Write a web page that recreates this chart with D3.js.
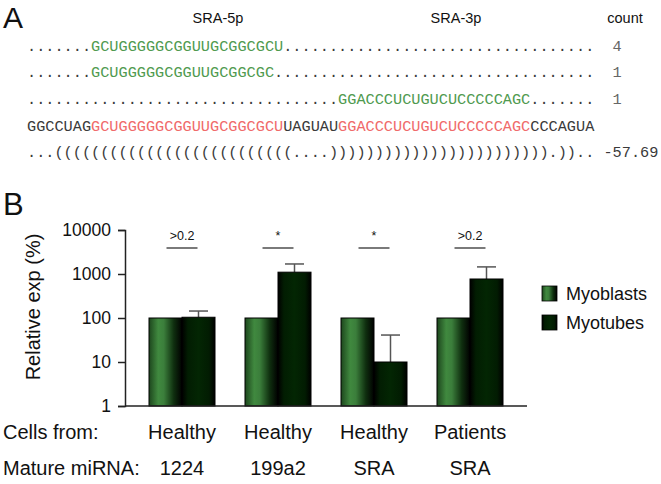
<!DOCTYPE html>
<meta charset="utf-8">
<style>
body { margin: 0; background: #fff; }
text { font-family: "Liberation Sans", Arial, sans-serif; fill: #111; }
.seq { font-family: "Liberation Mono", "Courier New", monospace; font-size: 15.25px; fill: #333; white-space: pre; }
</style>
<svg width="661" height="484"></svg>
<script src="https://d3js.org/d3.v7.min.js"></script>
<script>

// ---- panel A data ----
var precursor = "GGCCUAGGCUGGGGGCGGUUGCGGCGCUUAGUAUGGACCCUCUGUCUCCCCCAGCCCCAGUA"
var structure = "..." + "(".repeat(26) + "...." + ")".repeat(24) + "." + "))" + ".."
var energy = "-57.69"
var arms = [{name: "SRA-5p", start: 7, len: 21}, {name: "SRA-3p", start: 34, len: 21}]
var readStarts = [7, 7, 34]
var readSeqs = ["GCUGGGGGCGGUUGCGGCGCU", "GCUGGGGGCGGUUGCGGCGC", "GGACCCUCUGUCUCCCCCAGC"]
var readCounts = [4, 1, 1]

// ---- panel B data ----
var cellsFrom = ["Healthy", "Healthy", "Healthy", "Patients"]
var matureMirna = ["1224", "199a2", "SRA", "SRA"]
var myoblasts = [100, 100, 100, 100]
var myotubes = [104, 1100, 10, 770]
var myotubesErr = [40, 590, 31, 680]
var pLabels = [">0.2", "*", "*", ">0.2"]
var yTicks = [1, 10, 100, 1000, 10000]
var seriesNames = ["Myoblasts", "Myotubes"]

var svg = d3.select("svg")

var defs = svg.append("defs")
function grad(id, stops) {
  var g = defs.append("linearGradient").attr("id", id).attr("x1", "0%").attr("x2", "100%").attr("y1", "0%").attr("y2", "0%")
  stops.forEach(function(s){ g.append("stop").attr("offset", s[0]).attr("stop-color", s[1]) })
}
grad("gBlast", [["0%", "#1d461d"], ["28%", "#40893f"], ["45%", "#3b7e3b"], ["75%", "#0f2f0f"], ["100%", "#000"]])
grad("gTube", [["0%", "#000"], ["18%", "#021d02"], ["50%", "#032603"], ["82%", "#021c02"], ["100%", "#000"]])
var fills = ["url(#gBlast)", "url(#gTube)"]

// ================= Panel A =================
svg.append("text").attr("x", 3).attr("y", 28).style("font-size", "30px").text("A")

var cw = 9.15, x0 = 27
var colX = function(i){ return x0 + i * cw }

svg.selectAll(".armlab").data(arms).enter().append("text")
  .attr("class", "armlab")
  .attr("x", function(d, i){ return i == 0 ? 218 : 456 })
  .attr("y", 23)
  .attr("text-anchor", "middle")
  .style("font-size", "14.5px")
  .text(function(d){ return d.name })

svg.append("text").attr("x", 625).attr("y", 23).attr("text-anchor", "middle").style("font-size", "14.5px").text("count")

var rowY = [51, 77, 104, 131, 157]

function segText(y, start, str, color) {
  svg.append("text").attr("class", "seq")
    .attr("x", colX(start)).attr("y", y)
    .attr("textLength", str.length * cw).attr("lengthAdjust", "spacingAndGlyphs")
    .style("fill", color).text(str)
}

readSeqs.forEach(function(s, i){
  var st = readStarts[i]
  var end = st + s.length
  segText(rowY[i], 0, ".".repeat(st), "#3a3a3a")
  segText(rowY[i], st, s, "#4f9a4f")
  segText(rowY[i], end, ".".repeat(precursor.length - end), "#3a3a3a")
  svg.append("text").attr("class", "seq").attr("x", colX(64)).attr("y", rowY[i]).style("fill", "#666").text(readCounts[i])
})

// precursor with arms highlighted
var pos = 0
arms.forEach(function(a){
  if (a.start > pos) segText(rowY[3], pos, precursor.slice(pos, a.start), "#3a3a3a")
  segText(rowY[3], a.start, precursor.slice(a.start, a.start + a.len), "#f06a6a")
  pos = a.start + a.len
})
segText(rowY[3], pos, precursor.slice(pos), "#3a3a3a")

segText(rowY[4], 0, structure, "#3a3a3a")
svg.append("text").attr("class", "seq").attr("x", colX(structure.length + 1)).attr("y", rowY[4]).style("fill", "#3a3a3a").text(energy)

// ================= Panel B =================
svg.append("text").attr("x", 3).attr("y", 215).style("font-size", "31px").text("B")

var y = d3.scaleLog().domain([1, 10000]).range([406, 230])
var x = d3.scaleBand().domain(d3.range(cellsFrom.length)).range([134, 518]).paddingInner(0.3125).paddingOuter(0.15625)
var xs = d3.scaleBand().domain([0, 1]).range([0, x.bandwidth()])

var yAxis = svg.append("g").attr("transform", "translate(125,0)")
  .call(d3.axisLeft(y).tickValues(yTicks).tickFormat(d3.format("d")).tickSizeOuter(0).tickSize(7).tickPadding(7))
yAxis.select(".domain").attr("stroke", "#222").attr("stroke-width", 1.5)
yAxis.selectAll(".tick line").attr("stroke", "#222").attr("stroke-width", 1.5)
yAxis.selectAll(".tick text").style("font-size", "17.5px").style("font-family", "Liberation Sans, Arial, sans-serif").attr("fill", "#111")

svg.append("text")
  .attr("transform", "translate(40,307) rotate(-90)")
  .attr("text-anchor", "middle")
  .style("font-size", "20px")
  .text("Relative exp (%)")

var groups = svg.selectAll(".grp").data(cellsFrom).enter().append("g")
  .attr("class", "grp")
  .attr("transform", function(d, i){ return "translate(" + x(i) + ",0)" })

groups.each(function(d, i){
  var g = d3.select(this)
  var vals = [myoblasts[i], myotubes[i]]
  // error bar on myotubes (upper only)
  var cx = xs(1) + xs.bandwidth() / 2
  var top = y(myotubes[i] + myotubesErr[i])
  g.append("line").attr("x1", cx).attr("x2", cx).attr("y1", y(myotubes[i])).attr("y2", top).attr("stroke", "#555").attr("stroke-width", 1.5)
  g.append("line").attr("x1", cx - 9.5).attr("x2", cx + 9.5).attr("y1", top).attr("y2", top).attr("stroke", "#555").attr("stroke-width", 1.5)
  g.selectAll("rect").data(vals).enter().append("rect")
    .attr("x", function(v, j){ return xs(j) })
    .attr("width", xs.bandwidth())
    .attr("y", function(v){ return y(v) })
    .attr("height", function(v){ return y(1) - y(v) })
    .attr("fill", function(v, j){ return fills[j] })
    .attr("stroke", "#000").attr("stroke-width", 1)
  // significance
  var mid = x.bandwidth() / 2
  g.append("line").attr("x1", mid - 15.5).attr("x2", mid + 15.5).attr("y1", y(10000) + 18).attr("y2", y(10000) + 18).attr("stroke", "#222").attr("stroke-width", 1.2)
  g.append("text").attr("x", mid).attr("y", y(10000) + 10).attr("text-anchor", "middle").style("font-size", "12.5px").text(pLabels[i])
  // category labels
  g.append("text").attr("x", mid).attr("y", 439).attr("text-anchor", "middle").style("font-size", "20px").text(cellsFrom[i])
  g.append("text").attr("x", mid).attr("y", 475).attr("text-anchor", "middle").style("font-size", "20px").text(matureMirna[i])
})

// x baseline
svg.append("line").attr("x1", 125).attr("x2", 527).attr("y1", y(1)).attr("y2", y(1)).attr("stroke", "#222").attr("stroke-width", 1.5)

svg.append("text").attr("x", 3).attr("y", 439).style("font-size", "20px").text("Cells from:")
svg.append("text").attr("x", 3).attr("y", 475).style("font-size", "20px").text("Mature miRNA:")

// legend
var leg = svg.selectAll(".leg").data(seriesNames).enter().append("g")
  .attr("class", "leg")
  .attr("transform", function(d, i){ return "translate(542," + (286 + i * 29) + ")" })
leg.append("rect").attr("width", 15).attr("height", 15).attr("fill", function(d, i){ return fills[i] }).attr("stroke", "#000").attr("stroke-width", 0.8)
leg.append("text").attr("x", 24).attr("y", 14).style("font-size", "18px").text(function(d){ return d })

</script>
